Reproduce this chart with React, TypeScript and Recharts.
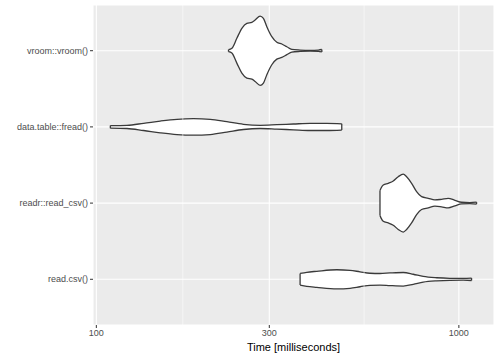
import React from 'react';
import { ComposedChart, Area, XAxis, YAxis, CartesianGrid, ReferenceLine } from 'recharts';

const categories = ['read.csv()', 'readr::read_csv()', 'data.table::fread()', 'vroom::vroom()'];
const xTicks = [100, 300, 1000];
const minorTicks = [173.2, 547.7];

// violin outlines: time (ms) and half-width (category units)
const readCsvTimes = [364.8, 380.6, 405.5, 460.5, 500.9, 533.8, 568.6, 605.9, 645.7, 702.4, 748.3, 797.3, 868.1, 944.6, 1027.6, 1083.9];
const readCsvWidths = [0.076, 0.092, 0.105, 0.125, 0.118, 0.098, 0.079, 0.076, 0.083, 0.089, 0.066, 0.037, 0.02, 0.013, 0.012, 0.016];

const readrTimes = [605.9, 609.7, 618.7, 638.6, 659.2, 680.4, 702.4, 717.6, 740.7, 764.6, 789.2, 823.0, 858.8, 896.1, 934.3, 975.0, 1017.2, 1072.2, 1118.9];
const readrWidths = [0.164, 0.194, 0.238, 0.26, 0.29, 0.346, 0.38, 0.346, 0.26, 0.15, 0.084, 0.063, 0.041, 0.05, 0.063, 0.037, 0.011, 0.007, 0.013];

const freadTimes = [109.3, 121.5, 135.0, 150.1, 166.9, 185.4, 206.1, 229.1, 254.5, 283.0, 314.7, 349.6, 388.7, 432.1, 475.3];
const freadWidths = [0.017, 0.021, 0.047, 0.077, 0.1, 0.108, 0.1, 0.068, 0.034, 0.021, 0.029, 0.038, 0.047, 0.047, 0.041];

const vroomTimes = [231.5, 236.5, 244.1, 252.0, 260.1, 268.5, 274.2, 283.0, 289.0, 295.3, 304.8, 314.7, 324.8, 335.3, 346.0, 364.8, 388.7, 409.8, 418.8];
const vroomWidths = [0.013, 0.031, 0.163, 0.294, 0.36, 0.373, 0.403, 0.455, 0.425, 0.315, 0.184, 0.11, 0.088, 0.052, 0.018, 0.009, 0.005, 0.009, 0.016];

const violins = [
  { pos: 1, times: readCsvTimes, widths: readCsvWidths },
  { pos: 2, times: readrTimes, widths: readrWidths },
  { pos: 3, times: freadTimes, widths: freadWidths },
  { pos: 4, times: vroomTimes, widths: vroomWidths },
];

const FONT = '"Liberation Sans", Arial, sans-serif';
const OUTLINE = '#3a3a3a';

export default function App() {
  return (
    <div style={{ position: 'absolute', left: 0, top: 0 }}>
      <ComposedChart width={500} height={357} margin={{ top: 5, right: 6, bottom: 0, left: 0 }}>
        <CartesianGrid fill="#EBEBEB" stroke="#FFFFFF" strokeWidth={1.1} />
        <XAxis
          type="number"
          dataKey="t"
          scale="log"
          domain={[97.9, 1250]}
          allowDataOverflow
          ticks={xTicks}
          height={32}
          tickSize={3}
          tickMargin={2}
          axisLine={false}
          tickLine={{ stroke: '#333333' }}
          tick={{ fill: '#4D4D4D', fontSize: 9, fontFamily: FONT }}
          label={{ value: 'Time [milliseconds]', position: 'insideBottom', offset: 6, fill: '#000000', fontSize: 11, fontFamily: FONT }}
        />
        <YAxis
          type="number"
          domain={[0.4, 4.6]}
          allowDataOverflow
          ticks={[1, 2, 3, 4]}
          tickFormatter={(v: number) => categories[v - 1]}
          width={93}
          tickSize={3}
          tickMargin={2}
          axisLine={false}
          tickLine={{ stroke: '#333333' }}
          tick={{ fill: '#4D4D4D', fontSize: 9, fontFamily: FONT }}
        />
        {minorTicks.map((m) => (
          <ReferenceLine key={'m' + m} x={m} stroke="#FFFFFF" strokeWidth={0.55} />
        ))}
        {violins.map((v) => (
          <Area
            key={'v' + v.pos}
            data={v.times.map((t, i) => ({ t, range: [v.pos - v.widths[i], v.pos + v.widths[i]] }))}
            dataKey="range"
            type="monotone"
            fill="#FFFFFF"
            fillOpacity={1}
            stroke={OUTLINE}
            strokeWidth={1.3}
            dot={false}
            activeDot={false}
            isAnimationActive={false}
          />
        ))}
        {violins.map((v) => {
          const n = v.times.length - 1;
          return [
            <ReferenceLine
              key={'s' + v.pos}
              segment={[{ x: v.times[0], y: v.pos - v.widths[0] }, { x: v.times[0], y: v.pos + v.widths[0] }]}
              stroke={OUTLINE}
              strokeWidth={1.3}
            />,
            <ReferenceLine
              key={'e' + v.pos}
              segment={[{ x: v.times[n], y: v.pos - v.widths[n] }, { x: v.times[n], y: v.pos + v.widths[n] }]}
              stroke={OUTLINE}
              strokeWidth={1.3}
            />,
          ];
        })}
      </ComposedChart>
    </div>
  );
}
